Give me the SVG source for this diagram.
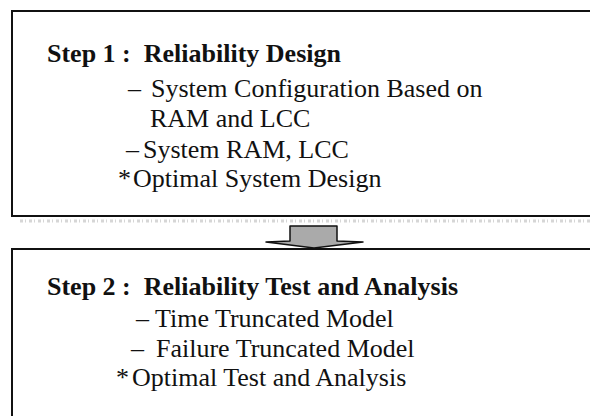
<svg xmlns="http://www.w3.org/2000/svg" width="590" height="416" viewBox="0 0 590 416">
<style>
.box{fill:#fff;stroke:#111;stroke-width:2}
.h{font-family:"Liberation Serif","Times New Roman",serif;font-weight:bold;font-size:26px;fill:#111}
.t{font-family:"Liberation Serif","Times New Roman",serif;font-size:26px;fill:#111}
</style>
<rect width="590" height="416" fill="#fff"/>
<g id="step1">
<rect class="box" x="12" y="11" width="600" height="205"/>
<text class="h" x="47" y="62" xml:space="preserve">Step 1 :  Reliability Design</text>
<text class="t" y="97"><tspan x="128">–</tspan><tspan x="151">System Configuration Based on</tspan></text>
<text class="t" x="150" y="127">RAM and LCC</text>
<text class="t" y="158"><tspan x="126">–</tspan><tspan x="143">System RAM, LCC</tspan></text>
<text class="t" y="187"><tspan x="118">*</tspan><tspan x="133">Optimal System Design</tspan></text>
</g>
<g id="step2">
<rect class="box" x="12" y="249" width="600" height="200"/>
<text class="h" x="47" y="295" xml:space="preserve">Step 2 :  Reliability Test and Analysis</text>
<text class="t" y="327"><tspan x="136">–</tspan><tspan x="155">Time Truncated Model</tspan></text>
<text class="t" y="357"><tspan x="131">–</tspan><tspan x="156">Failure Truncated Model</tspan></text>
<text class="t" y="386"><tspan x="116">*</tspan><tspan x="132">Optimal Test and Analysis</tspan></text>
</g>
<g id="connectors">
<line x1="20" y1="221" x2="590" y2="221" stroke="#bbb" stroke-width="3" stroke-dasharray="3 2 1 3" opacity="0.6"/>
<polygon points="290,226 337,226 337,241 363,242 314,248 266,242 290,241" fill="#aaa" stroke="#111" stroke-width="1.5" stroke-linejoin="round"/>
</g>
</svg>
